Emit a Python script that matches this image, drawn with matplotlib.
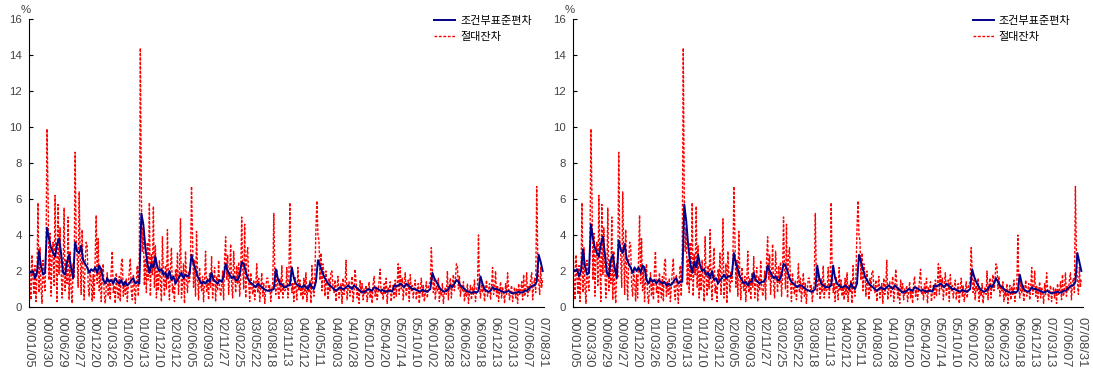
import numpy as np
import matplotlib
matplotlib.use('Agg')
import matplotlib.pyplot as plt

plt.rcParams['font.family'] = ['Liberation Sans', 'Noto Sans CJK KR']

# tick labels (every 60 trading days)
tick_labels = ['00/01/05', '00/03/30', '00/06/29', '00/09/27', '00/12/20',
               '01/03/26', '01/06/20', '01/09/13', '01/12/10', '02/03/12',
               '02/06/05', '02/09/03', '02/11/27', '03/02/25', '03/05/22',
               '03/08/18', '03/11/13', '04/02/12', '04/05/11', '04/08/03',
               '04/10/28', '05/01/20', '05/04/20', '05/07/14', '05/10/10',
               '06/01/02', '06/03/28', '06/06/23', '06/09/18', '06/12/13',
               '07/03/13', '07/06/07', '07/08/31']

# conditional std. dev. (8 samples per tick interval), left model
sigma_left = [
    2.0, 1.9, 2.0, 1.6, 1.9, 3.1, 2.3, 1.8,
    1.9, 4.4, 3.8, 3.3, 3.0, 2.8, 3.5, 3.8,
    3.0, 1.9, 1.8, 2.5, 2.9, 2.2, 1.6, 3.6,
    3.1, 3.0, 3.4, 2.6, 2.4, 2.2, 1.9, 2.1,
    2.0, 2.2, 1.9, 2.3, 2.1, 1.5, 1.3, 1.6,
    1.4, 1.5, 1.3, 1.6, 1.4, 1.3, 1.5, 1.2,
    1.4, 1.2, 1.3, 1.5, 1.6, 1.3, 1.4, 1.3,
    5.2, 4.6, 3.3, 2.4, 1.9, 2.4, 2.2, 2.8,
    2.2, 2.0, 2.1, 1.8, 1.9, 1.6, 2.0, 1.5,
    1.7, 1.3, 1.5, 1.7, 1.9, 1.6, 1.8, 1.7,
    1.8, 2.9, 2.4, 2.1, 1.7, 1.5, 1.3, 1.4,
    1.3, 1.5, 1.4, 1.9, 1.5, 1.4, 1.3, 1.5,
    1.4, 1.7, 2.4, 2.0, 1.8, 1.6, 1.7, 1.5,
    1.5, 1.8, 2.5, 2.4, 2.0, 1.6, 1.4, 1.3,
    1.2, 1.1, 1.3, 1.2, 1.1, 1.0, 0.95, 0.9,
    0.9, 0.95, 1.0, 2.1, 1.6, 1.3, 1.25, 1.1,
    1.1, 1.2, 1.2, 2.2, 1.6, 1.3, 1.2, 1.15,
    1.1, 1.2, 1.1, 1.0, 1.3, 1.1, 1.0, 1.4,
    2.6, 2.3, 2.0, 1.7, 1.5, 1.3, 1.2, 1.1,
    1.0, 0.9, 1.0, 1.1, 1.0, 1.0, 1.1, 1.2,
    1.1, 1.0, 1.2, 1.1, 1.0, 0.9, 0.8, 0.85,
    0.9, 1.0, 0.95, 0.9, 1.1, 1.05, 1.0, 0.9,
    0.95, 0.9, 0.85, 0.9, 0.9, 0.85, 1.2, 1.15,
    1.2, 1.3, 1.2, 1.1, 1.3, 1.2, 1.1, 1.0,
    1.0, 0.95, 0.9, 0.85, 0.95, 0.9, 0.85, 0.9,
    1.0, 1.9, 1.6, 1.4, 1.2, 1.0, 0.9, 0.85,
    0.9, 1.0, 1.2, 1.1, 1.3, 1.5, 1.4, 1.2,
    1.1, 1.0, 0.9, 0.85, 0.8, 0.8, 0.85, 0.8,
    0.9, 1.7, 1.3, 1.0, 0.9, 0.85, 0.9, 1.1,
    1.0, 1.0, 0.95, 0.9, 0.85, 0.8, 0.85, 0.9,
    0.8, 0.75, 0.8, 0.8, 0.85, 0.8, 0.8, 0.9,
    0.9, 1.0, 1.1, 1.2, 1.2, 1.4, 2.9, 2.5,
    2.0]

# conditional std. dev., right model
sigma_right = [
    2.1, 2.0, 2.1, 1.7, 2.0, 3.2, 2.3, 1.8,
    1.9, 4.6, 3.8, 3.3, 3.0, 2.8, 3.5, 3.9,
    3.0, 1.9, 1.7, 2.6, 2.9, 2.2, 1.6, 3.7,
    3.2, 3.0, 3.5, 2.7, 2.4, 2.2, 1.9, 2.2,
    2.0, 2.2, 1.9, 2.3, 2.2, 1.5, 1.3, 1.6,
    1.4, 1.5, 1.3, 1.5, 1.4, 1.3, 1.4, 1.2,
    1.3, 1.2, 1.3, 1.5, 1.6, 1.3, 1.4, 1.4,
    5.7, 4.8, 3.4, 2.4, 1.9, 2.5, 2.2, 2.9,
    2.3, 2.0, 2.1, 1.8, 1.9, 1.6, 2.0, 1.5,
    1.6, 1.3, 1.5, 1.6, 1.8, 1.6, 1.7, 1.7,
    1.8, 3.0, 2.4, 2.1, 1.7, 1.5, 1.3, 1.4,
    1.2, 1.4, 1.4, 1.9, 1.5, 1.4, 1.3, 1.4,
    1.4, 1.6, 2.3, 2.0, 1.8, 1.6, 1.7, 1.5,
    1.5, 1.8, 2.4, 2.3, 2.0, 1.6, 1.4, 1.3,
    1.2, 1.1, 1.2, 1.2, 1.1, 1.0, 0.95, 0.9,
    0.85, 0.9, 1.0, 2.3, 1.6, 1.3, 1.2, 1.1,
    1.1, 1.1, 1.2, 2.3, 1.6, 1.3, 1.2, 1.1,
    1.1, 1.2, 1.1, 1.0, 1.3, 1.1, 1.0, 1.3,
    2.9, 2.5, 2.1, 1.7, 1.5, 1.3, 1.2, 1.1,
    1.0, 0.9, 1.0, 1.1, 1.0, 1.0, 1.1, 1.2,
    1.1, 1.0, 1.2, 1.1, 1.0, 0.9, 0.8, 0.85,
    0.9, 1.0, 0.95, 0.9, 1.1, 1.05, 1.0, 0.9,
    0.95, 0.9, 0.85, 0.9, 0.9, 0.85, 1.2, 1.15,
    1.2, 1.3, 1.2, 1.1, 1.3, 1.2, 1.1, 1.0,
    1.0, 0.95, 0.9, 0.85, 0.95, 0.9, 0.85, 0.9,
    1.0, 2.1, 1.7, 1.4, 1.2, 1.0, 0.9, 0.85,
    0.9, 1.0, 1.2, 1.1, 1.3, 1.6, 1.4, 1.2,
    1.1, 1.0, 0.9, 0.85, 0.8, 0.8, 0.85, 0.8,
    0.9, 1.8, 1.3, 1.0, 0.9, 0.85, 0.9, 1.1,
    1.0, 1.0, 0.95, 0.9, 0.85, 0.8, 0.85, 0.9,
    0.8, 0.75, 0.8, 0.8, 0.85, 0.8, 0.8, 0.9,
    0.9, 1.0, 1.1, 1.2, 1.2, 1.4, 3.0, 2.5,
    2.0]

# absolute residuals (16 samples per tick interval)
abs_resid = [
    3.8, 1.2, 0.4, 2.9, 1.6, 0.7, 2.3, 0.3, 1.9, 5.8, 0.8, 3.3, 1.1, 0.2, 2.6, 1.4,
    0.9, 3.2, 9.9, 6.3, 1.5, 4.1, 0.6, 2.8, 3.6, 1.2, 6.2, 2.4, 0.3, 5.7, 1.8, 4.4,
    2.2, 0.5, 1.7, 5.5, 0.9, 2.6, 1.3, 5.0, 0.4, 3.1, 1.0, 0.2, 2.4, 1.6, 8.6, 3.9,
    2.8, 1.1, 6.4, 3.0, 0.7, 4.3, 1.9, 0.4, 2.5, 3.6, 3.4, 1.2, 0.6, 2.1, 1.5, 0.3,
    1.8, 0.5, 2.7, 5.1, 1.3, 3.8, 0.9, 2.2, 0.3, 1.6, 2.4, 0.7, 0.2, 1.1, 1.9, 0.6,
    1.5, 0.4, 2.1, 3.1, 0.8, 1.2, 0.2, 1.9, 1.0, 0.5, 1.7, 0.3, 2.4, 2.7, 0.6, 1.4,
    0.7, 1.6, 0.3, 1.2, 2.0, 2.7, 0.9, 0.4, 1.8, 1.1, 0.2, 1.5, 2.3, 0.6, 3.0, 14.4,
    6.2, 3.1, 4.4, 1.2, 2.7, 0.8, 3.6, 1.5, 5.8, 0.6, 2.9, 1.8, 5.6, 1.1, 3.4, 0.5,
    2.0, 0.9, 2.6, 1.4, 0.3, 3.9, 1.7, 0.6, 2.3, 1.0, 4.3, 1.5, 0.4, 2.2, 3.3, 0.8,
    1.2, 0.3, 2.1, 1.5, 3.0, 0.7, 1.9, 4.9, 0.5, 1.3, 2.4, 0.2, 3.1, 1.6, 0.8, 2.0,
    1.4, 2.5, 6.7, 3.8, 1.1, 2.6, 0.6, 4.2, 1.8, 0.4, 2.2, 1.3, 0.9, 1.7, 0.3, 1.5,
    3.1, 0.8, 1.6, 0.4, 1.9, 1.1, 2.8, 0.5, 1.4, 2.2, 0.3, 1.7, 0.9, 2.6, 1.2, 0.6,
    1.0, 2.0, 0.4, 2.7, 3.9, 1.5, 2.9, 0.7, 1.8, 3.5, 1.2, 0.5, 3.1, 1.9, 0.8, 2.3,
    1.3, 2.5, 0.6, 1.7, 5.0, 2.2, 1.0, 4.6, 0.5, 2.8, 3.3, 1.4, 0.3, 1.9, 1.1, 0.7,
    1.5, 0.4, 1.2, 2.4, 0.8, 1.6, 0.3, 1.1, 1.9, 0.6, 1.3, 0.2, 1.0, 1.6, 1.6, 0.9,
    1.2, 0.3, 0.9, 1.4, 5.2, 1.8, 0.7, 2.1, 1.1, 0.4, 1.6, 0.8, 2.3, 0.5, 1.3, 0.9,
    1.0, 2.2, 0.5, 1.4, 5.8, 2.0, 0.8, 1.3, 0.3, 1.7, 1.0, 0.4, 2.2, 0.9, 1.5, 0.6,
    1.1, 0.4, 1.6, 0.7, 1.9, 0.3, 1.2, 0.8, 1.5, 0.2, 2.3, 1.0, 0.6, 1.8, 4.4, 5.9,
    4.0, 3.7, 1.5, 3.0, 0.9, 2.4, 1.8, 0.6, 2.0, 1.2, 0.4, 1.6, 0.9, 2.0, 2.0, 1.1,
    0.8, 1.5, 0.3, 1.1, 1.7, 0.5, 0.9, 1.3, 0.2, 1.6, 0.7, 1.2, 2.6, 0.4, 1.0, 1.4,
    0.6, 1.2, 1.7, 0.3, 0.9, 2.1, 1.4, 0.5, 1.1, 0.2, 1.5, 0.8, 1.3, 0.4, 1.0, 0.7,
    1.2, 0.3, 0.8, 1.4, 0.5, 1.0, 0.2, 1.3, 1.7, 0.6, 1.1, 0.4, 0.9, 1.5, 2.1, 0.7,
    1.0, 0.4, 1.3, 0.7, 1.6, 0.2, 1.1, 0.8, 1.4, 0.3, 0.9, 1.2, 0.5, 1.5, 0.6, 1.3,
    2.4, 0.7, 2.2, 1.0, 1.6, 0.4, 1.3, 1.9, 0.6, 1.1, 1.5, 0.3, 1.8, 0.9, 1.2, 0.5,
    1.1, 1.5, 0.4, 0.9, 1.3, 0.2, 1.0, 1.6, 0.6, 1.2, 0.3, 0.8, 1.4, 0.5, 1.1, 1.3,
    1.4, 3.3, 2.0, 0.8, 1.5, 0.4, 1.2, 0.9, 1.6, 0.3, 1.0, 0.6, 1.3, 0.2, 0.8, 1.1,
    0.7, 2.0, 0.4, 1.2, 1.6, 0.5, 1.3, 1.8, 0.9, 1.5, 2.4, 2.3, 1.0, 1.7, 0.6, 1.2,
    0.9, 1.4, 0.3, 1.0, 0.6, 1.3, 0.2, 0.8, 1.2, 0.4, 1.1, 0.7, 1.5, 0.3, 0.9, 1.2,
    4.0, 1.1, 0.5, 1.4, 0.8, 1.2, 0.3, 1.0, 1.5, 0.6, 0.9, 1.3, 0.4, 1.1, 2.2, 0.7,
    1.0, 2.0, 0.6, 1.2, 0.3, 0.9, 1.4, 0.5, 1.1, 0.8, 0.2, 1.3, 0.7, 1.9, 1.0, 0.4,
    0.9, 1.2, 0.3, 0.8, 1.1, 0.5, 1.0, 0.2, 1.3, 0.7, 0.9, 1.4, 0.4, 1.8, 0.6, 1.0,
    1.9, 0.6, 1.2, 0.9, 1.5, 1.9, 0.4, 1.3, 1.6, 0.8, 6.7, 3.0, 1.4, 0.7, 2.2, 1.1,
    1.6]


def draw_panel(ax, sigma, resid):
    x_sig = np.arange(len(sigma)) / 8.0
    x_res = np.arange(len(resid)) / 16.0
    ax.plot(x_sig, sigma, color='#00008b', lw=1.4, label='조건부표준편차', zorder=3)
    ax.plot(x_res, resid, color='#ff0000', lw=1.0, linestyle=(0, (2, 1.2)),
            label='절대잔차', zorder=2)

    ax.set_xlim(0, 32.1)
    ax.set_ylim(0, 16)
    ax.set_yticks(range(0, 17, 2))
    ax.set_xticks(range(len(tick_labels)))
    ax.set_xticklabels(tick_labels, rotation=-90, fontsize=9.3, color='#444444')
    ax.tick_params(axis='x', length=0, pad=7)
    ax.tick_params(axis='y', direction='in', length=3, labelsize=8.2,
                   labelcolor='#444444', pad=5)
    for side in ('top', 'right'):
        ax.spines[side].set_visible(False)
    ax.text(-0.016, 1.015, '%', transform=ax.transAxes, fontsize=8.2,
            color='#444444', ha='left', va='bottom')
    ax.legend(loc='upper right', bbox_to_anchor=(0.995, 1.045), frameon=False,
              fontsize=8, handlelength=1.9, handletextpad=0.45, labelspacing=0.5)


fig = plt.figure(figsize=(10.93, 3.71), dpi=100)
ax1 = fig.add_axes([0.0265, 0.1725, 0.4715, 0.776])
ax2 = fig.add_axes([0.5243, 0.1725, 0.4665, 0.776])
draw_panel(ax1, sigma_left, abs_resid)
draw_panel(ax2, sigma_right, abs_resid)

fig.savefig('out.png', dpi=100)
